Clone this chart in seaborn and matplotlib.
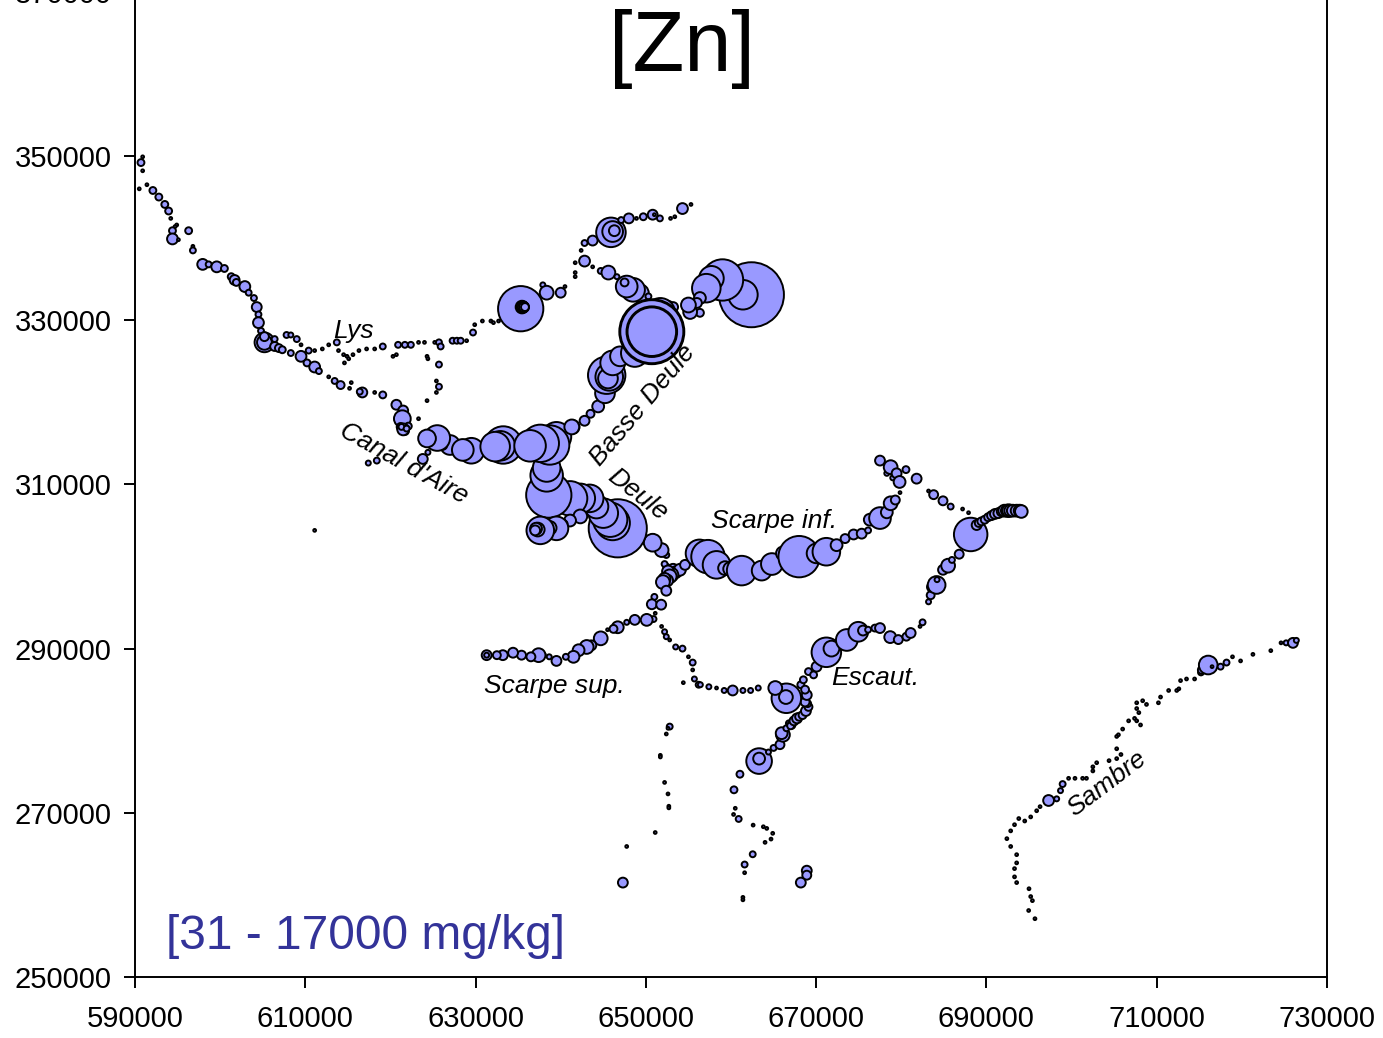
import matplotlib
matplotlib.use('Agg')
import matplotlib.pyplot as plt
import pandas as pd
import seaborn as sns

# all coordinates in km (Lambert), Zn in mg/kg
x_ticks = [590000, 610000, 630000, 650000, 670000, 690000, 710000, 730000]
y_ticks = [250000, 270000, 290000, 310000, 330000, 350000, 370000]

lys_up_x = [590.9, 590.7, 590.9, 590.5, 591.4, 592.1, 592.8, 593.5, 593.95, 594.2, 594.9, 594.7, 594.4, 596.3, 594.4, 595.1, 596.8, 596.8,
            597.95, 598.65, 599.6, 600.5, 601.3, 601.7, 601.9, 602.9, 603.35, 603.97, 604.3, 604.5, 604.5, 604.8,
            605.2, 605.2, 605.2, 606.4, 606.4, 606.9, 607.3, 608.3, 609.5, 610.2, 611.1, 611.6]
lys_up_y = [349.9, 349.2, 348.2, 346.0, 346.5, 345.8, 345.0, 344.1, 343.3, 342.4, 341.6, 341.4, 340.9, 340.9, 339.9, 339.8, 339.0, 338.5,
            336.8, 336.8, 336.5, 336.3, 335.3, 334.9, 334.6, 334.1, 333.35, 332.7, 331.6, 330.7, 329.7, 328.7,
            327.3, 327.3, 328.0, 327.7, 326.8, 326.6, 326.4, 326.0, 325.6, 324.8, 324.3, 323.8]
lys_up_zn = [31, 190, 31, 31, 31, 190, 190, 190, 190, 31, 31, 31, 190, 190, 470, 31, 31, 140,
             470, 140, 470, 190, 190, 390, 190, 470, 140, 140, 390, 140, 470, 140,
             1560, 880, 320, 140, 320, 250, 190, 140, 470, 190, 470, 140]

aire_x = [612.75, 613.45, 614.15, 615.4, 615.2, 616.7, 616.4, 618.15, 619.1, 620.7, 621.5, 621.4, 621.2, 622.1, 621.7, 621.5, 621.3, 621.9, 617.4, 618.4, 611.1]
aire_y = [323.1, 322.6, 322.1, 322.4, 321.7, 321.2, 321.3, 321.2, 320.9, 319.7, 319.0, 318.0, 317.0, 317.1, 316.5, 316.7, 317.0, 316.8, 312.6, 312.9, 304.4]
aire_zn = [31, 140, 250, 31, 31, 390, 140, 31, 190, 390, 390, 1130, 250, 190, 250, 560, 140, 140, 100, 140, 31]

lys_x = [607.8, 608.3, 609.0, 609.5, 610.4, 611.1, 612.0, 612.75, 613.7, 613.9, 614.5, 614.9, 615.1, 614.6, 615.6, 616.3, 617.2, 618.15, 619.1,
         620.3, 620.7, 620.9, 621.7, 622.4, 623.3, 624.0, 625.2, 625.7, 625.9, 624.3, 624.4, 625.7, 625.4, 625.7, 625.4, 624.3, 623.3,
         627.3, 627.8, 628.25, 628.95, 629.7, 629.9, 630.8, 631.8, 632.1, 632.7, 633.2]
lys_y = [328.2, 328.2, 327.7, 327.0, 326.3, 326.3, 326.5, 327.0, 327.3, 326.3, 325.8, 325.6, 325.3, 324.8, 325.8, 326.3, 326.5, 326.5, 326.8,
         325.6, 325.8, 327.0, 327.0, 327.0, 327.3, 327.3, 327.3, 327.3, 326.8, 325.6, 325.3, 324.6, 322.6, 321.9, 321.2, 320.2, 318.0,
         327.5, 327.5, 327.5, 327.5, 328.5, 329.45, 329.9, 329.9, 329.7, 329.9, 330.4]
lys_zn = [140, 100, 140, 31, 140, 31, 31, 31, 140, 31, 31, 31, 31, 31, 31, 31, 31, 31, 140,
          31, 31, 140, 140, 140, 31, 31, 31, 140, 140, 31, 31, 140, 31, 140, 31, 31, 31,
          140, 140, 140, 31, 140, 31, 31, 31, 31, 31, 31]

north_x = [635.3, 635.45, 635.5, 635.6, 635.7, 635.8, 637.9, 638.35, 640.0, 640.5, 641.7, 641.7, 641.7, 642.4, 642.8, 642.8, 643.75,
           645.9, 646.1, 646.3, 647.1, 648.0, 648.9, 649.7, 650.8, 651.0, 651.65, 652.9, 653.4, 654.3, 655.3]
north_y = [331.4, 331.6, 331.6, 331.6, 331.6, 331.6, 334.3, 333.35, 333.35, 334.1, 337.0, 335.8, 335.3, 338.5, 337.2, 339.4, 339.7,
           340.7, 340.8, 340.9, 342.2, 342.4, 342.4, 342.6, 342.85, 342.85, 342.4, 342.4, 342.6, 343.6, 344.1]
north_zn = [8250, 640, 560, 470, 390, 250, 100, 760, 390, 31, 31, 31, 31, 31, 470, 140, 390,
            3510, 1720, 470, 140, 390, 31, 190, 390, 31, 140, 31, 31, 470, 31]

right_x = [662.4, 661.4, 659.0, 657.7, 657.1, 656.35, 656.0, 656.35, 655.2, 655.0]
right_y = [333.1, 333.1, 334.9, 335.1, 333.9, 332.7, 332.1, 330.9, 331.0, 331.85]
right_zn = [17000, 3510, 6880, 2440, 3280, 560, 390, 250, 760, 880]

deule_up_x = [643.75, 644.7, 645.6, 646.6, 649.3, 648.5, 647.75, 647.5, 650.3, 652.4, 653.2, 651.7,
              641.4, 642.8, 643.5, 644.4, 645.2, 645.4, 645.7, 645.55, 646.1, 646.96, 648.7, 650.7, 650.7, 650.7, 650.7]
deule_up_y = [336.5, 336.0, 335.8, 335.3, 333.3, 333.7, 334.1, 334.6, 332.9, 331.2, 331.6, 330.9,
              317.0, 317.75, 318.6, 319.5, 321.1, 323.3, 323.1, 322.9, 324.8, 325.6, 326.0, 328.6, 328.6, 328.6, 328.6]
deule_up_zn = [31, 140, 760, 100, 1260, 2250, 1890, 250, 140, 1560, 390, 3510,
               760, 390, 250, 560, 1560, 5630, 3060, 1560, 2440, 1560, 3060, 17000, 16000, 10300, 9500]

canal_x = [623.8, 624.4, 627.0, 626.1, 625.5, 624.3, 629.5, 628.5, 633.25, 632.9, 632.3, 639.5, 638.7, 637.6, 636.4, 641.3]
canal_y = [313.1, 313.9, 314.8, 314.8, 315.65, 315.6, 314.1, 314.2, 314.8, 314.7, 314.6, 315.8, 314.8, 315.0, 314.7, 317.0]
canal_zn = [390, 100, 1560, 390, 2640, 1260, 2640, 1890, 5630, 3510, 3510, 3510, 6240, 5630, 4000, 880]

# big Deule circles first, the upstream ones lie over them
deule_x = [652.4, 651.85, 650.8, 646.7, 646.1, 645.8, 645.0, 644.2, 643.4, 642.3, 641.1, 638.6, 638.35, 638.35,
           642.3, 641.1, 640.4, 640.2, 640.1, 639.5, 638.7, 638.0, 637.6, 637.3, 637.1, 637.0]
deule_y = [301.4, 302.0, 302.9, 304.65, 305.3, 305.7, 306.5, 307.3, 308.3, 308.3, 308.3, 308.7, 311.1, 312.0,
           306.1, 305.6, 305.2, 305.3, 305.2, 304.65, 304.7, 304.5, 304.4, 304.5, 304.6, 304.4]
deule_zn = [140, 760, 1260, 13600, 4780, 4780, 3510, 2250, 3060, 3510, 4780, 8250, 4250, 3060,
            760, 560, 190, 250, 390, 2250, 760, 390, 3060, 760, 560, 390]

scarpe_sup_x = [652.4, 652.2, 653.2, 653.5, 654.0, 654.6, 653.0, 652.6, 652.8, 652.5, 652.2, 652.0, 652.4, 651.0, 650.7, 651.8, 651.1, 650.9, 650.1, 648.7, 647.75, 646.7, 646.2, 645.5,
                644.7, 643.6, 643.05, 642.1, 641.5, 640.6, 639.5, 638.65, 637.9, 637.4, 636.5, 635.4, 634.4, 633.2, 632.5, 631.3, 631.3]
scarpe_sup_y = [300.0, 300.3, 299.6, 299.3, 299.6, 300.2, 299.0, 299.4, 298.8, 298.3, 298.5, 298.1, 297.05, 296.3, 295.4, 295.35, 294.3, 293.6, 293.5, 293.5, 293.2, 292.6, 292.4, 292.3,
                291.25, 290.4, 290.2, 289.8, 289.0, 289.0, 288.5, 289.0, 289.2, 289.2, 289.0, 289.2, 289.5, 289.2, 289.2, 289.2, 289.2]
scarpe_sup_zn = [140, 140, 560, 560, 560, 390, 760, 560, 760, 560, 560, 760, 390, 140, 390, 390, 31, 140, 560, 390, 100, 560, 250, 31,
                 760, 390, 760, 560, 560, 140, 390, 100, 140, 760, 320, 320, 390, 390, 250, 390, 100]

link_x = [651.85, 652.2, 652.4, 652.8, 653.5, 654.3, 655.0, 655.5, 655.5, 655.7, 654.4, 656.2, 656.4, 657.4, 658.3, 659.2, 660.2, 661.4, 662.3, 663.2]
link_y = [292.7, 292.05, 291.45, 291.05, 290.2, 290.0, 289.0, 288.3, 287.4, 286.3, 285.85, 285.6, 285.6, 285.35, 285.2, 284.9, 284.9, 284.9, 284.9, 285.2]
link_zn = [31, 100, 100, 31, 100, 140, 31, 140, 31, 100, 31, 140, 100, 100, 31, 100, 390, 100, 100, 100]

escaut_x = [663.3, 663.3, 664.4, 665.0, 665.75, 666.1, 665.95, 666.5, 666.8, 667.1, 667.0, 667.4, 667.75, 668.0, 668.4, 668.8, 669.1, 669.0, 668.7, 668.9, 667.6, 666.5, 666.45, 665.2,
            669.1, 668.2, 668.7, 668.5, 669.7, 670.05, 671.2, 671.8, 673.6, 674.95, 675.5, 676.1, 676.9, 677.5, 678.7, 679.65, 680.6, 681.1, 682.2, 682.5]
escaut_y = [276.3, 276.6, 277.4, 277.9, 278.3, 279.5, 279.7, 280.3, 280.9, 280.7, 280.6, 281.2, 281.5, 281.7, 281.9, 282.4, 282.9, 283.3, 283.5, 284.35, 284.1, 283.95, 284.1, 285.2,
            287.2, 285.6, 285.0, 286.2, 286.8, 287.8, 289.55, 290.0, 291.05, 292.05, 292.2, 292.3, 292.5, 292.5, 291.4, 291.1, 291.45, 291.9, 292.7, 293.2]
escaut_zn = [2640, 560, 100, 140, 320, 760, 560, 140, 140, 250, 190, 320, 390, 250, 250, 390, 250, 190, 320, 390, 250, 3510, 760, 760,
             190, 190, 250, 190, 190, 390, 3510, 1000, 1890, 1560, 390, 140, 190, 390, 560, 320, 250, 390, 31, 140]

sensee_x = [683.2, 683.45, 683.6, 684.15, 684.2, 684.9, 685.5, 685.95, 686.8, 688.15, 688.85, 689.1, 689.4, 689.8, 690.2, 690.6, 691.0, 691.4, 691.8, 692.1, 692.4, 692.6, 692.8, 693.1, 693.55, 693.9, 694.1]
sensee_y = [295.7, 296.5, 297.5, 297.75, 298.4, 299.6, 300.1, 300.8, 301.5, 303.9, 305.05, 305.3, 305.5, 305.7, 306.0, 306.2, 306.4, 306.5, 306.7, 306.8, 306.8, 306.8, 306.8, 306.8, 306.8, 306.8, 306.7]
sensee_zn = [100, 250, 390, 1260, 100, 390, 760, 140, 320, 4510, 390, 250, 250, 250, 250, 320, 390, 390, 390, 560, 560, 640, 560, 560, 560, 560, 640]

scarpe_inf_x = [656.3, 657.3, 658.3, 659.3, 659.9, 661.25, 663.6, 664.8, 666.1, 668.0, 670.05, 671.2, 672.4, 673.4, 674.4, 675.35, 676.1, 676.3, 677.5, 678.3, 678.75, 679.3, 679.85]
scarpe_inf_y = [301.6, 301.2, 300.2, 299.8, 299.7, 299.5, 299.5, 300.3, 301.6, 301.2, 301.6, 301.8, 302.6, 303.4, 303.9, 304.0, 304.4, 305.7, 305.9, 306.6, 307.7, 308.1, 309.0]
scarpe_inf_zn = [3060, 4510, 3060, 760, 760, 3510, 1560, 1890, 760, 6880, 1560, 3060, 560, 320, 390, 390, 140, 560, 1890, 560, 760, 320, 31]

cojeul_x = [677.5, 678.3, 678.75, 679.0, 679.45, 679.8, 680.55, 681.8, 683.2, 683.8, 684.9, 685.8, 687.2, 687.9]
cojeul_y = [312.9, 311.35, 312.1, 310.8, 311.35, 310.3, 311.8, 310.7, 309.2, 308.75, 308.0, 307.3, 307.0, 306.55]
cojeul_zn = [390, 100, 760, 100, 390, 560, 190, 390, 31, 320, 320, 140, 31, 31]

south_x = [661.05, 660.35, 660.5, 660.3, 660.9, 662.6, 663.8, 664.2, 664.9, 664.7, 664.0, 662.55, 661.6, 661.6, 661.4, 661.4,
           668.9, 668.9, 668.2, 647.3, 647.75, 651.1, 652.7, 652.7, 652.2, 652.6, 651.7, 651.7, 652.4, 652.8, 652.6]
south_y = [274.7, 272.8, 270.55, 269.8, 269.25, 268.5, 268.3, 268.1, 267.5, 266.8, 266.4, 264.95, 263.7, 262.7, 259.7, 259.4,
           262.95, 262.4, 261.5, 261.5, 265.9, 267.6, 270.8, 270.6, 273.7, 272.3, 277.0, 276.8, 279.6, 280.5, 280.3]
south_zn = [190, 190, 31, 31, 140, 31, 31, 31, 31, 31, 31, 140, 140, 31, 31, 31,
            390, 320, 390, 390, 31, 31, 31, 31, 31, 31, 31, 31, 31, 140, 31]

sambre_x = [695.7, 694.96, 695.4, 695.2, 695.0, 693.55, 693.3, 693.3, 693.55, 693.55, 692.85, 692.4, 692.85, 693.3, 693.8, 694.5, 695.2, 695.9, 696.3,
            697.3, 698.25, 698.7, 698.95, 699.65, 700.4, 701.3, 701.75, 702.5, 702.5, 702.95, 704.4, 705.3, 705.8, 705.3, 705.3, 705.5, 706.0, 706.7,
            707.4, 707.65, 708.1, 707.9, 707.65, 707.65, 708.35, 708.8, 710.2, 710.45, 711.4, 712.35, 712.6, 712.8, 713.5, 714.45,
            715.2, 715.3, 716.05, 716.5, 717.5, 718.2, 718.9, 719.85, 721.3, 723.4, 724.6, 725.2, 726.0, 726.4]
sambre_y = [257.1, 258.1, 259.3, 259.8, 260.75, 261.5, 262.2, 263.2, 263.9, 264.9, 265.9, 266.85, 267.8, 268.55, 269.3, 269.0, 269.5, 270.25, 270.75,
            271.5, 271.7, 272.7, 273.5, 274.2, 274.2, 274.2, 274.2, 275.6, 275.1, 276.1, 276.35, 276.6, 277.1, 277.8, 279.3, 279.5, 280.2, 281.2,
            281.5, 281.2, 280.7, 282.2, 282.7, 283.4, 283.65, 283.2, 283.4, 284.1, 284.9, 284.9, 285.1, 286.1, 286.3, 286.3,
            287.1, 287.4, 288.0, 287.8, 287.8, 288.3, 289.0, 288.5, 289.3, 289.75, 290.7, 290.7, 290.7, 291.0]
sambre_zn = [31, 31, 31, 31, 31, 31, 31, 31, 31, 31, 31, 31, 31, 31, 31, 31, 31, 31, 31,
             470, 100, 100, 140, 31, 31, 31, 31, 31, 31, 31, 31, 31, 31, 31, 31, 31, 31, 31,
             31, 31, 31, 31, 31, 31, 31, 31, 31, 31, 31, 31, 31, 31, 31, 31,
             140, 250, 1400, 31, 140, 140, 31, 31, 31, 31, 31, 100, 390, 100]

rivers = [(lys_up_x, lys_up_y, lys_up_zn), (aire_x, aire_y, aire_zn), (lys_x, lys_y, lys_zn),
          (north_x, north_y, north_zn), (right_x, right_y, right_zn), (deule_up_x, deule_up_y, deule_up_zn),
          (deule_x, deule_y, deule_zn), (canal_x, canal_y, canal_zn), (scarpe_sup_x, scarpe_sup_y, scarpe_sup_zn),
          (link_x, link_y, link_zn), (escaut_x, escaut_y, escaut_zn), (sensee_x, sensee_y, sensee_zn),
          (scarpe_inf_x, scarpe_inf_y, scarpe_inf_zn), (cojeul_x, cojeul_y, cojeul_zn),
          (south_x, south_y, south_zn), (sambre_x, sambre_y, sambre_zn)]

df = pd.concat([pd.DataFrame({'x': x, 'y': y, 'zn': zn}) for x, y, zn in rivers], ignore_index=True)
df['x'] = df['x'] * 1000
df['y'] = df['y'] * 1000

sns.set_style('ticks')
plt.rcParams['font.family'] = ['Liberation Sans', 'DejaVu Sans']

fig = plt.figure(figsize=(13.83, 10.38), dpi=100)
ax = fig.add_axes([135 / 1383, 61 / 1038, 1192 / 1383, 985.2 / 1038])

# marker area follows concentration
k = 0.1288
sns.scatterplot(data=df, x='x', y='y', size='zn', sizes=(31 * k, 17000 * k), size_norm=(31, 17000),
                color='#9999FF', edgecolor='black', linewidth=1.4, legend=False, ax=ax)

ax.set_xlim(590000, 730000)
ax.set_ylim(250000, 370000)
ax.set_xticks(x_ticks)
ax.set_yticks(y_ticks)
ax.set_xticklabels([str(v) for v in x_ticks])
ax.set_yticklabels([str(v) for v in y_ticks])
ax.set_xlabel('')
ax.set_ylabel('')
ax.tick_params(axis='both', labelsize=21, length=8, width=1.4, color='black', labelcolor='black')
ax.tick_params(axis='x', pad=12)
ax.tick_params(axis='y', pad=9)
for sp in ax.spines.values():
    sp.set_linewidth(1.4)
    sp.set_color('black')

lab = dict(fontsize=19, style='italic', ha='center', va='center', color='black')
ax.text(615700, 328700, 'Lys', **lab)
ax.text(639300, 285500, 'Scarpe sup.', **lab)
ax.text(677000, 286400, 'Escaut.', **lab)
ax.text(665000, 305500, 'Scarpe inf.', **lab)
ax.text(649600, 319700, 'Basse Deule', rotation=50, **lab)
ax.text(621600, 312600, "Canal d'Aire", rotation=-29, **lab)
ax.text(649000, 308700, 'Deule', rotation=-38, **lab)
ax.text(704100, 273600, 'Sambre', rotation=37, **lab)

ax.text(654200, 360300, '[Zn]', fontsize=61, ha='center', va='baseline', color='black')
ax.text(593600, 253400, '[31 - 17000 mg/kg]', fontsize=34.5, ha='left', va='baseline', color='#333399')

fig.savefig('out.png', dpi=100)
